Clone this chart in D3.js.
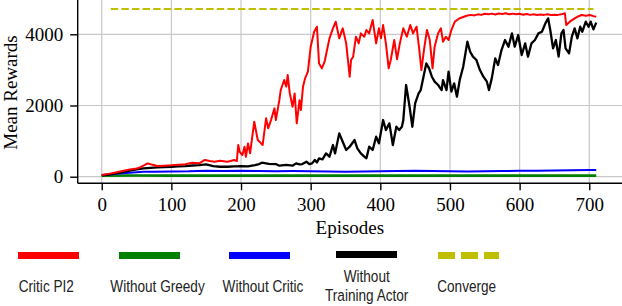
<html lang="en">
<head>
    <meta charset="utf-8">
    <title>Mean Rewards</title>
    <script src="https://d3js.org/d3.v7.min.js"></script>
    <style>
        body { margin: 0; background: #fff; }
        .grid line { stroke: #c8c8c8; stroke-width: 1.2px; }
        .axis path, .axis line { stroke: #000; stroke-width: 1.4px; }
        .axis text { font-family: "Liberation Serif", "Times New Roman", serif; font-size: 19px; fill: #000; }
        .series { fill: none; stroke-linejoin: round; }
        .legend text { font-family: "Liberation Sans", Arial, sans-serif; font-size: 17px; fill: #222; }
    </style>
</head>
<body>
    <svg width="622" height="306"></svg>
    <script>
        // ---- data ----
        var xTicks = [0, 100, 200, 300, 400, 500, 600, 700];
        var yTicks = [0, 2000, 4000];

        var criticPI2 = [[0,50],[10,80],[20,120],[30,160],[40,200],[50,230],[55,260],[62,330],[66,375],[70,350],[80,300],[90,310],[100,320],[110,335],[120,350],[130,390],[140,375],[148,470],[155,440],[162,420],[170,450],[180,420],[185,440],[190,470],[194,440],[196,890],[198,700],[202,610],[205,843],[207,560],[210,936],[213,655],[219,1545],[224,1030],[229,936],[231,890],[236,1640],[239,1358],[243,1590],[248,1920],[250,1590],[255,2150],[257,2435],[262,2715],[265,2530],[267,2855],[270,2340],[274,1966],[277,2340],[280,1500],[284,2150],[286,1873],[289,2530],[292,2762],[296,2950],[300,3650],[305,4073],[309,4213],[312,3183],[316,3043],[320,3230],[322,3418],[327,3886],[332,4167],[336,4354],[341,3886],[346,4167],[351,3745],[356,2809],[358,3277],[361,3370],[365,3933],[369,3745],[372,4026],[377,3933],[380,4120],[384,4026],[389,4400],[394,3745],[398,4167],[401,3886],[404,4260],[408,3745],[412,3043],[415,3277],[420,3839],[424,3300],[428,3745],[433,4167],[438,3933],[443,4260],[447,4026],[452,4213],[456,3558],[459,2996],[463,3605],[467,4120],[471,3839],[475,3043],[478,3652],[483,4026],[487,4167],[490,3792],[494,3933],[498,3839],[502,4120],[507,4354],[514,4450],[524,4520],[530,4545],[535,4530],[540,4560],[545,4545],[550,4575],[555,4560],[560,4580],[565,4555],[570,4585],[575,4570],[580,4590],[585,4565],[590,4580],[595,4560],[600,4575],[605,4550],[610,4570],[615,4545],[620,4560],[625,4540],[630,4555],[635,4545],[640,4560],[645,4540],[650,4550],[655,4545],[660,4560],[665,4590],[667,4260],[672,4354],[679,4447],[684,4500],[689,4541],[695,4520],[701,4540],[706,4510],[710,4494]];

        var withoutGreedy = [[0,30],[50,32],[100,30],[150,31],[200,30],[250,31],[300,30],[350,31],[400,30],[450,31],[500,30],[550,31],[600,30],[650,31],[710,30]];

        var withoutCritic = [[0,50],[15,70],[25,90],[40,112],[50,125],[60,140],[75,140],[100,148],[125,150],[150,165],[175,160],[200,170],[225,160],[250,152],[275,158],[300,155],[325,145],[350,140],[375,145],[400,150],[425,160],[450,165],[475,158],[500,152],[525,148],[550,150],[575,160],[600,165],[625,170],[650,175],[675,180],[700,190],[710,190]];

        var withoutTrainingActor = [[0,40],[10,60],[20,94],[30,130],[40,170],[50,205],[60,234],[70,250],[80,262],[90,270],[100,280],[110,290],[120,300],[130,315],[140,328],[150,346],[160,300],[170,280],[180,280],[190,290],[200,300],[210,290],[220,328],[226,355],[230,393],[240,360],[250,356],[255,309],[265,330],[274,309],[279,375],[284,346],[288,355],[294,421],[298,355],[302,375],[306,470],[309,400],[312,515],[317,487],[322,655],[327,562],[332,890],[335,655],[341,1217],[346,983],[351,749],[356,843],[363,1030],[367,796],[372,655],[377,562],[380,515],[384,843],[389,749],[394,1124],[398,936],[401,1264],[404,1592],[408,1311],[413,1498],[418,890],[423,1404],[427,1311],[431,1404],[433,1592],[437,2575],[442,1966],[446,1404],[450,2060],[455,2341],[458,2434],[462,2809],[466,3183],[470,3043],[474,2809],[478,2669],[483,2575],[488,2434],[490,2715],[495,2434],[498,2950],[502,2388],[506,2622],[510,2247],[514,2715],[519,3090],[525,3792],[529,3511],[533,3371],[538,3277],[543,2996],[548,2809],[553,2669],[556,2434],[560,2762],[565,3324],[569,3137],[574,3558],[579,3839],[584,3652],[589,4026],[593,3652],[598,3980],[603,3418],[608,3745],[612,3371],[617,3745],[622,3839],[627,4026],[632,4073],[637,4307],[641,4448],[644,4120],[648,3605],[652,3839],[656,3371],[660,4026],[663,4120],[666,3605],[671,3464],[675,3933],[679,4167],[683,3886],[687,4213],[690,4073],[695,4354],[699,4213],[702,4354],[706,4139],[710,4326]];

        var converge = [[13,4710],[706,4710]];

        var seriesNames = ["Critic PI2", "Without Greedy", "Without Critic", "Without Training Actor", "Converge"];
        var seriesColors = ["#ff0000", "#008000", "#0000ff", "#000000", "#bfbf00"];
        var seriesWidths = [2, 2.6, 2, 2.3, 2];

        // ---- layout ----
        var svg = d3.select("svg"),
            margin = {top: 0, right: 0, bottom: 122.7, left: 77.7},
            width = +svg.attr("width") - margin.left - margin.right,
            height = +svg.attr("height") - margin.top - margin.bottom,
            g = svg.append("g").attr("transform", "translate(" + margin.left + "," + margin.top + ")");

        var x = d3.scaleLinear().domain([-34.5, 747]).range([0, width]),
            y = d3.scaleLinear().domain([-185, 4963]).range([height, 0]);

        // grid
        g.append("g").attr("class", "grid")
            .selectAll("line").data(xTicks).enter().append("line")
            .attr("x1", function(d) { return x(d); }).attr("x2", function(d) { return x(d); })
            .attr("y1", 0).attr("y2", height);
        g.append("g").attr("class", "grid")
            .selectAll("line").data(yTicks).enter().append("line")
            .attr("x1", 0).attr("x2", width)
            .attr("y1", function(d) { return y(d); }).attr("y2", function(d) { return y(d); });

        var line = d3.line()
            .x(function(d) { return x(d[0]); })
            .y(function(d) { return y(d[1]); });

        var all = [criticPI2, withoutGreedy, withoutCritic, withoutTrainingActor, converge];
        var drawOrder = [1, 2, 3, 0, 4];
        drawOrder.forEach(function(i) {
            var p = g.append("path")
                .datum(all[i])
                .attr("class", "series")
                .attr("d", line)
                .style("stroke", seriesColors[i])
                .style("stroke-width", seriesWidths[i]);
            if (i === 4) p.style("stroke-dasharray", "7.4,3.2");
        });

        // axes (bottom + left spines only)
        g.append("g")
            .attr("class", "axis axis--x")
            .attr("transform", "translate(0," + height + ")")
            .call(d3.axisBottom(x).tickValues(xTicks).tickSize(7).tickPadding(7.5).tickSizeOuter(0))
            .select(".domain").attr("d", "M0,0H" + width);

        g.append("g")
            .attr("class", "axis axis--y")
            .call(d3.axisLeft(y).tickValues(yTicks).tickFormat(d3.format("d")).tickSize(7.5).tickPadding(7).tickSizeOuter(0))
            .select(".domain").attr("d", "M0," + height + "V0");

        svg.append("text")
            .attr("x", margin.left + width / 2)
            .attr("y", 234)
            .attr("text-anchor", "middle")
            .style("font-family", "'Liberation Serif', 'Times New Roman', serif")
            .style("font-size", "19px")
            .text("Episodes");

        svg.append("text")
            .attr("transform", "translate(16.5,92.5) rotate(-90)")
            .attr("text-anchor", "middle")
            .style("font-family", "'Liberation Serif', 'Times New Roman', serif")
            .style("font-size", "19px")
            .text("Mean Rewards");

        // legend (labels are horizontally squeezed in the original figure)
        var legendLineX = [18, 119, 229, 336, 438],
            legendTextX = [46.3, 157.5, 263, 366.7, 466.7],
            legendLineLen = 61,
            squeeze = 0.8;
        var legend = svg.append("g").attr("class", "legend");
        function label(cx, by, txt) {
            legend.append("text")
                .attr("transform", "translate(" + cx + "," + by + ") scale(" + squeeze + ",1)")
                .attr("text-anchor", "middle")
                .text(txt);
        }
        seriesNames.forEach(function(name, i) {
            var ly = i === 3 ? 254.5 : 255.5;
            var l = legend.append("line")
                .attr("x1", legendLineX[i]).attr("x2", legendLineX[i] + legendLineLen)
                .attr("y1", ly).attr("y2", ly)
                .style("stroke", seriesColors[i])
                .style("stroke-width", 7);
            if (i === 4) l.style("stroke-dasharray", "17,6");
            if (name === "Without Training Actor") {
                label(legendTextX[i], 282, "Without");
                label(legendTextX[i], 301, "Training Actor");
            } else {
                label(legendTextX[i], 291.5, name);
            }
        });
    </script>
</body>
</html>
